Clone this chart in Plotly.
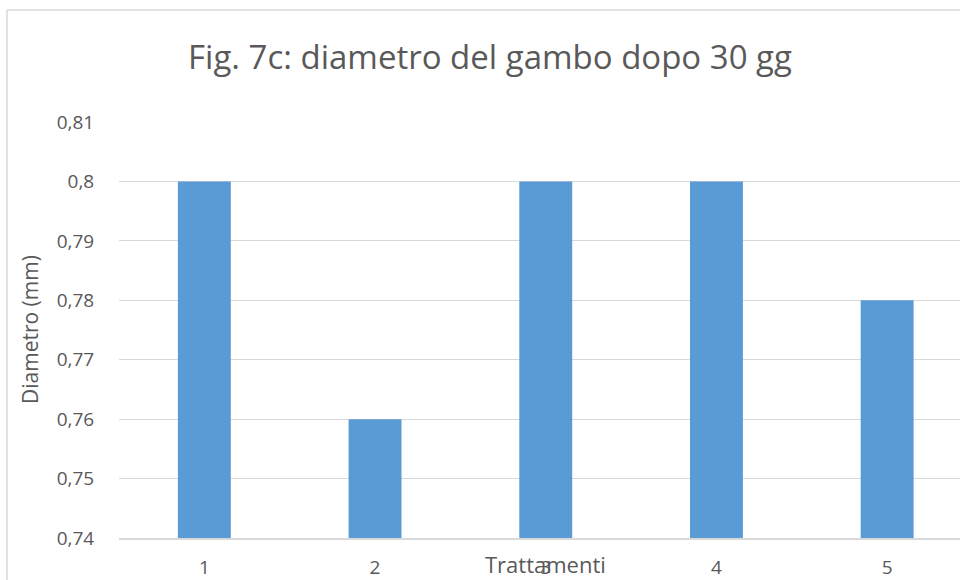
import plotly.graph_objects as go

# Stem diameter after 30 days, by treatment
trattamenti = ["1", "2", "3", "4", "5"]
diametro_mm = [0.80, 0.76, 0.80, 0.80, 0.78]

y_tick_vals = [0.74, 0.75, 0.76, 0.77, 0.78, 0.79, 0.80, 0.81]
y_tick_text = ["0,74", "0,75", "0,76", "0,77", "0,78", "0,79", "0,8", "0,81"]

titolo = "Fig. 7c: diametro del gambo dopo 30 gg"
titolo_x = "Trattamenti"
titolo_y = "Diametro (mm)"

TEXT = "#595959"
GRID = "#d9d9d9"
BAR = "#5b9bd5"
FONT = "Open Sans"

W, H = 960, 580
ML, MR, MT, MB = 119, 0, 122, 42
plot_w = W - ML - MR
plot_h = H - MT - MB
cat_px = 170.7  # horizontal space taken by one category

fig = go.Figure(
    go.Bar(
        x=trattamenti,
        y=diametro_mm,
        marker=dict(color=BAR, line=dict(width=0)),
        width=0.31,
        hoverinfo="x+y",
    )
)

frame_top = (plot_h + MT - 10) / plot_h   # top edge of the chart frame, paper units
frame_left = (7 - ML) / plot_w            # left edge of the chart frame, paper units

fig.update_layout(
    width=W,
    height=H,
    margin=dict(l=ML, r=MR, t=MT, b=MB, autoexpand=False),
    paper_bgcolor="white",
    plot_bgcolor="white",
    showlegend=False,
    font=dict(family=FONT, color=TEXT),
    title=dict(
        text=titolo,
        font=dict(family=FONT, size=33, color=TEXT),
        x=490 / W,
        xref="container",
        xanchor="center",
        y=1 - 57 / H,
        yref="container",
        yanchor="middle",
    ),
    xaxis=dict(
        type="category",
        range=[-0.5, -0.5 + plot_w / cat_px],
        automargin=False,
        showgrid=False,
        showline=True,
        linecolor=GRID,
        linewidth=1.5,
        ticks="outside",
        ticklen=11,
        tickcolor="rgba(0,0,0,0)",
        tickfont=dict(family=FONT, size=19, color=TEXT),
        fixedrange=True,
    ),
    yaxis=dict(
        range=[0.74, 0.81],
        automargin=False,
        tickvals=y_tick_vals,
        ticktext=y_tick_text,
        showgrid=True,
        gridcolor=GRID,
        gridwidth=1.2,
        zeroline=False,
        showline=False,
        ticks="outside",
        ticklen=20,
        tickcolor="rgba(0,0,0,0)",
        tickfont=dict(family=FONT, size=19, color=TEXT),
        fixedrange=True,
    ),
    annotations=[
        dict(
            text=titolo_x,
            xref="x",
            x=2,
            yref="paper",
            y=-26 / plot_h,
            xanchor="center",
            yanchor="middle",
            showarrow=False,
            font=dict(family=FONT, size=22, color=TEXT),
        ),
        dict(
            text=titolo_y,
            textangle=-90,
            xref="paper",
            x=(30 - ML) / plot_w,
            yref="paper",
            y=0.5,
            xanchor="center",
            yanchor="middle",
            showarrow=False,
            font=dict(family=FONT, size=21, color=TEXT),
        ),
    ],
    shapes=[
        # outer chart frame (left and top edges)
        dict(
            type="line",
            xref="paper", yref="paper",
            x0=frame_left, x1=frame_left,
            y0=frame_top, y1=-(MB + 5) / plot_h,
            line=dict(color=GRID, width=1.5),
        ),
        dict(
            type="line",
            xref="paper", yref="paper",
            x0=frame_left, x1=1.05,
            y0=frame_top, y1=frame_top,
            line=dict(color=GRID, width=1.5),
        ),
    ],
)

fig.write_html("out.html")
